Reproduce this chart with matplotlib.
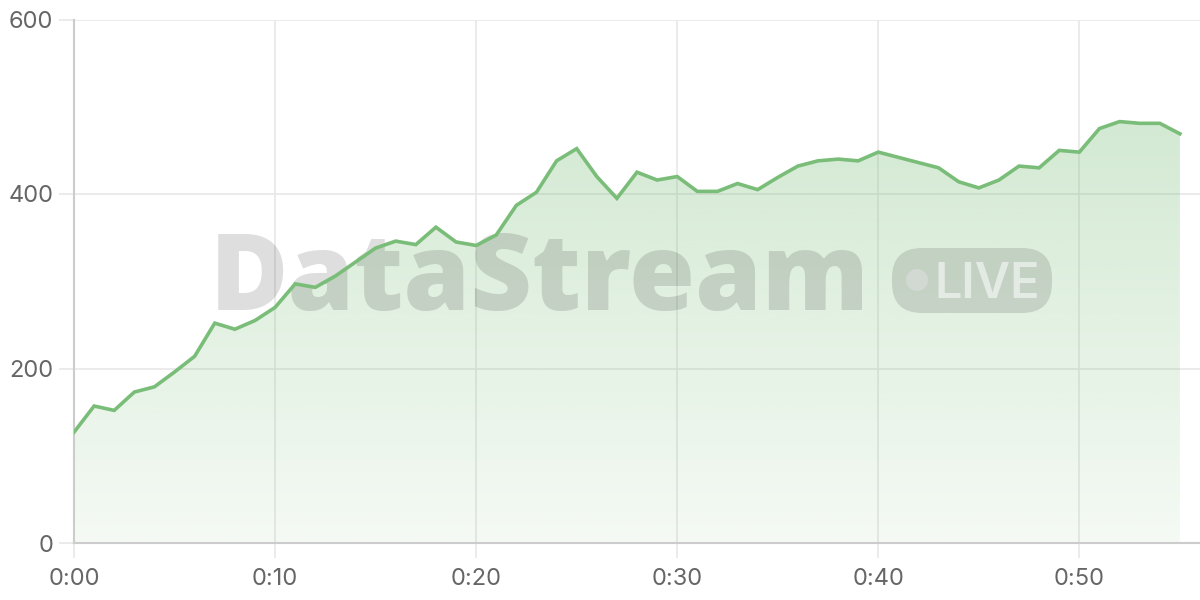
import numpy as np
import matplotlib.pyplot as plt
from matplotlib.patches import FancyBboxPatch, Ellipse
from matplotlib.colors import to_rgb

# one reading per minute, 0:00 .. 0:55
minutes = list(range(56))
values = [127, 157, 152, 173, 179, 196, 214, 252, 245, 255,
          270, 297, 293, 306, 322, 338, 346, 342, 362, 345,
          341, 353, 387, 402, 438, 452, 420, 395, 425, 416,
          420, 403, 403, 412, 405, 419, 432, 438, 440, 438,
          448, 442, 436, 430, 414, 407, 416, 432, 430, 450,
          448, 475, 483, 481, 481, 469]
x_ticks = [0, 10, 20, 30, 40, 50]
x_labels = ["0:00", "0:10", "0:20", "0:30", "0:40", "0:50"]
y_ticks = [0, 200, 400, 600]

line_color = "#7abd79"
grid_color = "#e8e8e8"
axis_color = "#cccccc"
text_color = "#666666"

plt.rcParams['font.family'] = ['Inter', 'DejaVu Sans']

fig = plt.figure(figsize=(12, 6), dpi=100)
ax = fig.add_axes([74 / 1200, 57 / 600, 1 - 74 / 1200, (543 - 19.5) / 600])

# gradient fill under the line
x = np.array(minutes)
y = np.array(values)
top = y.max()
rgb = to_rgb(line_color)
grad = np.zeros((256, 1, 4))
grad[:, 0, :3] = rgb
grad[:, 0, 3] = np.linspace(0.08, 0.33, 256)
poly = ax.fill_between(x, y, 0, color="none", lw=0)
img = ax.imshow(grad, extent=[x[0], x[-1], 0, top], origin="lower",
                aspect="auto", zorder=1)
img.set_clip_path(poly.get_paths()[0], transform=ax.transData)
ax.set_xlim(0, 56)
ax.set_ylim(0, 600)

ax.plot(x, y, color=line_color, lw=2.6, zorder=4, solid_joinstyle="miter")

# watermark
ax.text((540 - 74) / 1126, (543 - 310) / 523.5, "DataStream", transform=ax.transAxes,
        ha="center", va="baseline", fontsize=77, fontweight="heavy",
        family=["Open Sans", "DejaVu Sans"], color=(0, 0, 0, 0.13), zorder=3)
bx0, by0 = 892 / 1200, (600 - 313) / 600
bw, bh = (1052 - 892) / 1200, (313 - 248) / 600
badge = FancyBboxPatch((bx0, by0), bw, bh,
                       boxstyle="round,pad=0,rounding_size=0.025",
                       transform=fig.transFigure, facecolor=(0, 0, 0, 0.12),
                       edgecolor="none", zorder=3, mutation_aspect=2)
fig.patches.append(badge)
fig.patches.append(Ellipse((917 / 1200, (600 - 280) / 600), 22 / 1200, 22 / 600,
                           transform=fig.transFigure, facecolor=(1, 1, 1, 0.55),
                           edgecolor="none"))
fig.text(987 / 1200, (600 - 298) / 600, "LIVE", ha="center", va="baseline",
         fontsize=35, fontweight="semibold", color=(1, 1, 1, 0.55),
         family=["Inter", "DejaVu Sans"])

# axes styling
ax.set_xticks(x_ticks)
ax.set_xticklabels(x_labels)
ax.set_yticks(y_ticks)
ax.grid(True, color=grid_color, lw=1.2, zorder=0)
ax.set_axisbelow(True)
for side in ["top", "right"]:
    ax.spines[side].set_visible(False)
for side in ["left", "bottom"]:
    ax.spines[side].set_color(axis_color)
    ax.spines[side].set_linewidth(1.5)
ax.tick_params(axis="both", length=11, width=1.2, color=grid_color,
               labelcolor=text_color, labelsize=17)
ax.tick_params(axis="y", pad=4)
ax.tick_params(axis="x", pad=7)

fig.savefig("out.png", dpi=100)
